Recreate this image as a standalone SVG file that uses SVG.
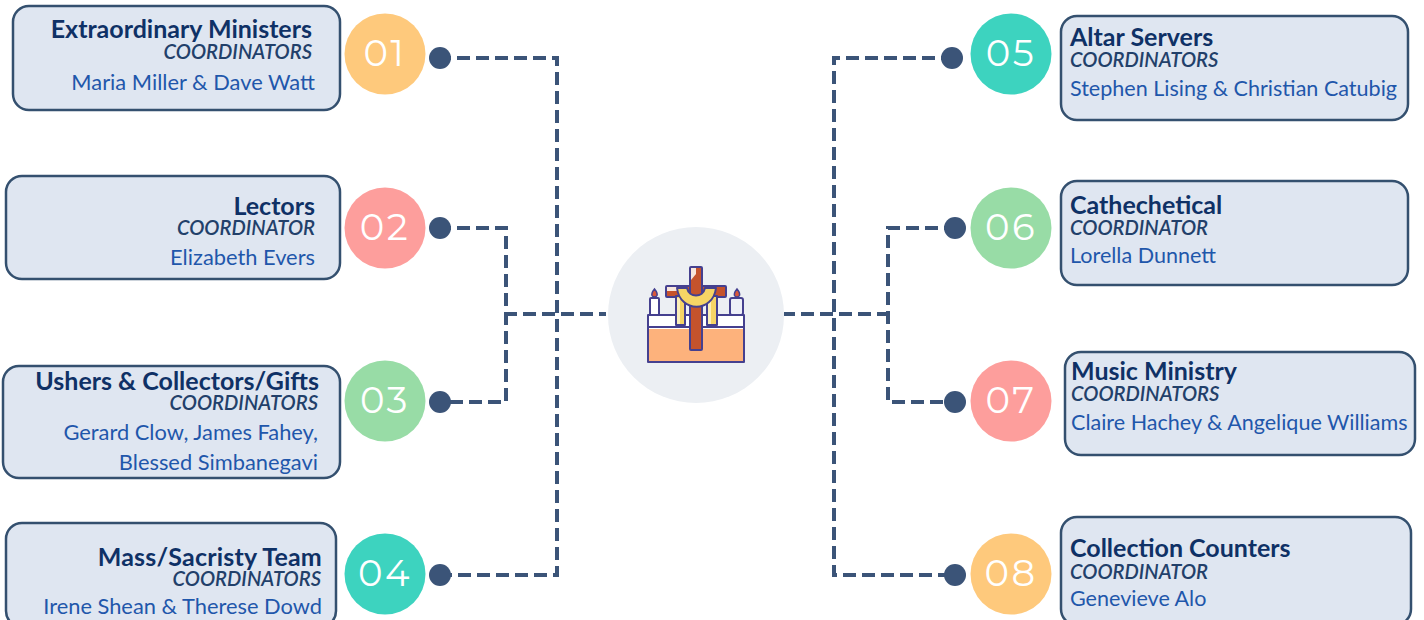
<svg xmlns="http://www.w3.org/2000/svg" width="1424" height="620" viewBox="0 0 1424 620">
<style>
text{font-family:Lato,"Open Sans","Liberation Sans",sans-serif}
.box{fill:#dfe6f1;stroke:#34506f;stroke-width:2.5}
.t{font-size:25px;font-weight:700;fill:#0f3166}
.c{font-size:20.2px;font-weight:600;font-style:italic;fill:#22406a}
.n{font-size:21.85px;fill:#1f57ab}
.s{font-size:21.55px}
.r{text-anchor:end}
.num{font-size:37px;fill:#fff;text-anchor:middle;font-family:Montserrat,"Open Sans",Lato,sans-serif;letter-spacing:2.5px}
.dot{fill:#3b5478}
.con{fill:none;stroke:#3b5478;stroke-width:4;stroke-dasharray:13 6;stroke-dashoffset:2}
.ic{stroke:#45408f;stroke-width:2;stroke-linejoin:round}
</style>
<rect width="1424" height="620" fill="#fff"/>
<g id="connectors">
<path class="con" d="M440 58H557V575H440"/>
<path class="con" d="M440 228H506V402H440"/>
<path class="con" d="M506 314H606"/>
<path class="con" d="M952 58H834V575H955"/>
<path class="con" d="M955 228H888V402H955"/>
<path class="con" d="M888 314H784"/>
</g>
<g id="hub">
<circle cx="696" cy="315" r="88" fill="#eceff3"/>
<path class="ic" d="M648 362V315H744V362Z" fill="#fff"/>
<path d="M649 329H743V361H649Z" fill="#fdb27c"/>
<path class="ic" d="M648 327H744" fill="none"/>
<rect class="ic" x="650" y="298" width="9" height="17" rx="1" fill="#fff"/>
<rect class="ic" x="730" y="298" width="13" height="17" rx="2" fill="#eef0f8"/>
<path d="M654.500 289C657 292 657.500 294 657 295.500C656 297.500 653 297.500 652 295.500C651.500 294 652 292 654.500 289Z" fill="#d9583a" stroke="#45408f" stroke-width="1.500"/>
<path d="M737 289C739.500 292 740 294 739.500 295.500C738.500 297.500 735.500 297.500 734.500 295.500C734 294 734.500 292 737 289Z" fill="#d9583a" stroke="#45408f" stroke-width="1.500"/>
<rect class="ic" x="666" y="286" width="60" height="11" rx="1" fill="#c5532c"/>
<path d="M667 287H677V291H667Z" fill="#f7e6dc"/>
<path class="ic" d="M676 296H685V325H676ZM707 296H717V325H707Z" fill="#f6d565"/>
<path d="M677 298H680V324H677ZM708 298H711V324H708Z" fill="#fbeeb8"/>
<rect class="ic" x="690" y="267" width="12" height="83" rx="1" fill="#c5532c"/>
<path d="M691 268H696V274L691 280Z" fill="#f7e6dc"/>
<path class="ic" d="M677 288H687C689 298 703 298 705 288H716C713 313 680 313 677 288Z" fill="#f6d565"/>
</g>
<g id="node-01"><rect class="box" x="13" y="6" width="327" height="104" rx="16"/><text class="t r" x="312" y="38">Extraordinary Ministers</text><text class="c r" x="312" y="59">COORDINATORS</text><text class="n r" x="315" y="90">Maria Miller &amp; Dave Watt</text><circle cx="385" cy="54" r="40.5" fill="#fec97c"/><text class="num" x="385" y="66">01</text><circle class="dot" cx="440" cy="58" r="11"/></g>
<g id="node-02"><rect class="box" x="6" y="176" width="334" height="103" rx="16"/><text class="t r" x="315" y="215">Lectors</text><text class="c r" x="315" y="235">COORDINATOR</text><text class="n r" x="315" y="265">Elizabeth Evers</text><circle cx="385" cy="228" r="40.5" fill="#fd9e9c"/><text class="num" x="385" y="240">02</text><circle class="dot" cx="440" cy="228" r="11"/></g>
<g id="node-03"><rect class="box" x="3" y="366" width="337" height="112" rx="16"/><text class="t r" x="319" y="390">Ushers &amp; Collectors/Gifts</text><text class="c r" x="318" y="410">COORDINATORS</text><text class="n r" x="318" y="440">Gerard Clow, James Fahey,</text><text class="n r" x="318" y="470">Blessed Simbanegavi</text><circle cx="385" cy="401" r="40.5" fill="#98dca6"/><text class="num" x="385" y="413">03</text><circle class="dot" cx="440" cy="402" r="11"/></g>
<g id="node-04"><rect class="box" x="6" y="523" width="330" height="104" rx="16"/><text class="t r" x="322" y="566" letter-spacing=".2">Mass/Sacristy Team</text><text class="c r" x="321" y="586">COORDINATORS</text><text class="n r" x="322" y="614">Irene Shean &amp; Therese Dowd</text><circle cx="385" cy="574" r="40.5" fill="#3dd3bf"/><text class="num" x="385" y="586">04</text><circle class="dot" cx="440" cy="575" r="11"/></g>
<g id="node-05"><rect class="box" x="1061" y="16" width="347" height="104" rx="16"/><text class="t" x="1070" y="46">Altar Servers</text><text class="c" x="1070" y="67">COORDINATORS</text><text class="n s" x="1070" y="96">Stephen Lising &amp; Christian Catubig</text><circle cx="1011" cy="54" r="40.5" fill="#3dd3bf"/><text class="num" x="1011" y="66">05</text><circle class="dot" cx="952" cy="58" r="11"/></g>
<g id="node-06"><rect class="box" x="1061" y="181" width="347" height="104" rx="16"/><text class="t" x="1070" y="214">Cathechetical</text><text class="c" x="1070" y="235">COORDINATOR</text><text class="n s" x="1070" y="263">Lorella Dunnett</text><circle cx="1011" cy="228" r="40.5" fill="#98dca6"/><text class="num" x="1011" y="240">06</text><circle class="dot" cx="955" cy="228" r="11"/></g>
<g id="node-07"><rect class="box" x="1065" y="352" width="350" height="103" rx="16"/><text class="t" x="1071" y="380">Music Ministry</text><text class="c" x="1071" y="401">COORDINATORS</text><text class="n s" x="1071" y="430">Claire Hachey &amp; Angelique Williams</text><circle cx="1011" cy="401" r="40.5" fill="#fd9e9c"/><text class="num" x="1011" y="413">07</text><circle class="dot" cx="955" cy="402" r="11"/></g>
<g id="node-08"><rect class="box" x="1061" y="517" width="350" height="108" rx="16"/><text class="t" x="1070" y="557">Collection Counters</text><text class="c" x="1070" y="579">COORDINATOR</text><text class="n s" x="1070" y="606">Genevieve Alo</text><circle cx="1011" cy="574" r="40.5" fill="#fec97c"/><text class="num" x="1011" y="586">08</text><circle class="dot" cx="955" cy="575" r="11"/></g>
</svg>
